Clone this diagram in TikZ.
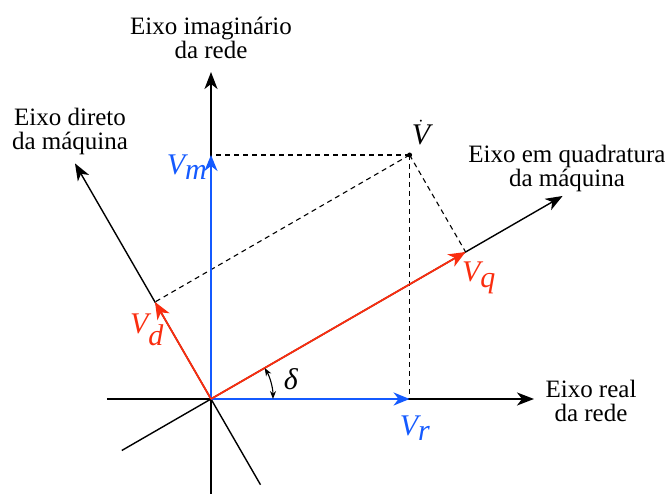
\documentclass[tikz,border=0pt]{standalone}
\usepackage{fontspec}
\setmainfont{Liberation Serif}
\newfontfamily\timesfont{Liberation Serif}
\usetikzlibrary{arrows.meta,positioning}
\definecolor{VecBlue}{RGB}{20,90,255}
\definecolor{VecRed}{RGB}{250,45,15}
\tikzset{
  axisline/.style={-{Stealth[length=17pt,width=13pt,inset=5pt]},line width=2pt,black},
  dqaxis/.style={-{Stealth[length=17pt,width=13pt,inset=5pt]},line width=1.4pt,black},
  bluevec/.style={-{Stealth[length=16pt,width=13pt,inset=5pt]},line width=2.3pt,color=VecBlue},
  redvec/.style={-{Stealth[length=17pt,width=14pt,inset=5pt]},line width=1.8pt,color=VecRed},
  projline/.style={dash pattern=on 5pt off 4pt,line width=1.1pt,black},
  anglearc/.style={{Stealth[length=8pt,width=6pt]}-{Stealth[length=8pt,width=6pt]},line width=1.1pt},
  vdot/.style={circle,fill=black,inner sep=0pt,minimum size=5pt},
  axlabel/.style={align=center,font=\timesfont\fontsize{25}{24}\selectfont},
  veclabel/.style={font=\timesfont\fontsize{30}{30}\selectfont}
}
\begin{document}
\begin{tikzpicture}[x=1pt,y=1pt]
  \useasboundingbox (-211,-95) rectangle (459,399);
  % axes of the network and of the machine
  \coordinate (O) at (0,0);
  \coordinate (reL) at (-104,0);
  \coordinate (reR) at (323,0);
  \coordinate (imB) at (0,-95);
  \coordinate (imT) at (0,327);
  \coordinate (qB) at (210:103);
  \coordinate (qT) at (30:406);
  \coordinate (dB) at (300:99);
  \coordinate (dT) at (120:272);
  \draw[axisline] (reL) -- (reR);
  \draw[axisline] (imB) -- (imT);
  \draw[dqaxis] (qB) -- (qT);
  \draw[dqaxis] (dB) -- (dT);
  % voltage phasor and its components
  \coordinate (Vq) at (30:294);
  \coordinate (Vd) at (120:112);
  \node[vdot] (V) at (198.6,244) {};
  \coordinate (Vr) at (198.6,0);
  \coordinate (Vm) at (0,244);
  \draw[projline] (V.center) -- (Vm);
  \draw[projline] (V.center) -- (Vr);
  \draw[projline] (V.center) -- (Vq);
  \draw[projline] (V.center) -- (Vd);
  \draw[bluevec] (O) -- (Vr);
  \draw[bluevec] (O) -- (Vm);
  \draw[redvec] (O) -- (Vq);
  \draw[redvec] (O) -- (Vd);
  \draw[anglearc] (0:62) arc[start angle=0,end angle=30,radius=62];
  % labels
  \node[axlabel] (imlbl) at (0,361) {Eixo imaginário\\da rede};
  \node[axlabel] (dlbl) at (-141,268) {Eixo direto\\da máquina};
  \node[axlabel] (qlbl) at (356,231) {Eixo em quadratura\\da máquina};
  \node[axlabel] (relbl) at (380,-2) {Eixo real\\da rede};
  \node[veclabel,text=VecBlue] (Vmlbl) at (-24,232) {$\textit{V}_{\textit{m}}$};
  \node[veclabel,text=VecBlue] (Vrlbl) at (204,-29) {$\textit{V}_{\textit{r}}$};
  \node[veclabel,text=VecRed] (Vdlbl) at (-64,69) {$\textit{V}_{\textit{d}}$};
  \node[veclabel,text=VecRed] (Vqlbl) at (268,121) {$\textit{V}_{\textit{q}}$};
  \node[veclabel] (dlt) at (80,20) {\textit{δ}};
  \node[veclabel,inner sep=0pt,anchor=base] (Vlbl) at (210,254) {$\dot{\textit{V}}$};
\end{tikzpicture}
\end{document}
